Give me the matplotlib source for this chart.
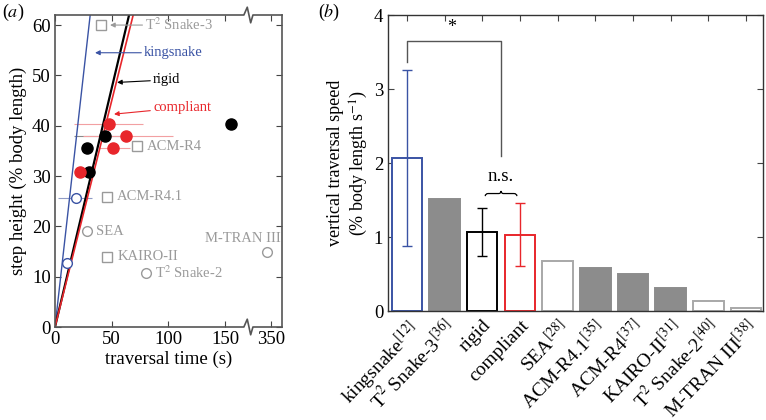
import numpy as np
import matplotlib
matplotlib.use("Agg")
import matplotlib.pyplot as plt
from matplotlib.path import Path
from matplotlib.patches import PathPatch

plt.rcParams['font.family'] = ['Liberation Serif', 'DejaVu Serif']
plt.rcParams['mathtext.fontset'] = 'stix'

BLUE = '#3a53a4'
RED = '#e8262b'
GRAY = '#9a9a9a'
DGRAY = '#8c8c8c'

# ---- panel (a) data: traversal time (s) vs step height (% body length)
king_t = [10.3, 18.5]
king_h = [12.8, 25.6]
king_lo = [10.3, 3.0]
king_hi = [10.3, 32.4]

rigid_t = [28.5, 30.0, 44.4, 155.2]
rigid_h = [35.6, 30.9, 37.9, 40.3]
rigid_lo = [28.5, 30.0, 17.0, 155.2]
rigid_hi = [28.5, 30.0, 60.0, 155.2]

comp_t = [21.8, 47.3, 50.9, 62.3]
comp_h = [30.9, 40.3, 35.6, 37.9]
comp_lo = [19.1, 16.8, 39.0, 25.0]
comp_hi = [35.3, 77.3, 66.0, 103.8]

robot_names = ['T$^{2}$ Snake-3', 'ACM-R4', 'ACM-R4.1', 'SEA', 'KAIRO-II',
               'T$^{2}$ Snake-2', 'M-TRAN III']
robot_t = [40.6, 72.0, 45.6, 28.5, 46.1, 80.2, 347.0]
robot_h = [60.0, 35.9, 25.9, 19.0, 14.0, 10.8, 15.0]
robot_mk = ['s', 's', 's', 'o', 's', 'o', 'o']

# fitted speeds (slopes) for the lines
king_slope = 2.0
rigid_slope = 0.95
comp_slope = 0.90

# ---- panel (b) data
bar_labels = ['kingsnake$^{[12]}$', 'T$^{2}$ Snake-3$^{[36]}$', 'rigid', 'compliant',
              'SEA$^{[28]}$', 'ACM-R4.1$^{[35]}$', 'ACM-R4$^{[37]}$', 'KAIRO-II$^{[31]}$',
              'T$^{2}$ Snake-2$^{[40]}$', 'M-TRAN III$^{[38]}$']
bar_vals = [2.07, 1.51, 1.07, 1.035, 0.68, 0.58, 0.50, 0.31, 0.14, 0.045]
err_lo = [0.877, 1.51, 0.74, 0.606, 0.68, 0.58, 0.50, 0.31, 0.14, 0.045]
err_hi = [3.26, 1.51, 1.40, 1.456, 0.68, 0.58, 0.50, 0.31, 0.14, 0.045]
bar_face = ['white', DGRAY, 'white', 'white', 'white', DGRAY, DGRAY, DGRAY, 'white', 'white']
bar_edge = [BLUE, DGRAY, 'black', RED, '#a8a8a8', DGRAY, DGRAY, DGRAY, '#a8a8a8', '#a8a8a8']


def tx(t):
    # broken x axis: values beyond the break are shifted so 350 sits at 190
    t = np.asarray(t, dtype=float)
    return np.where(t > 300, t - 160, t)


fig = plt.figure(figsize=(7.66, 4.2), dpi=100)
ax = fig.add_axes([55 / 766, 93 / 420, 227 / 766, 312 / 420])

tt = np.array([0, 40])
ax.plot(tt, king_slope * tt, color=BLUE, lw=1.0, zorder=2)
tt = np.array([0, 80])
ax.plot(tt, rigid_slope * tt, color='black', lw=1.6, zorder=2)
ax.plot(tt, comp_slope * tt, color=RED, lw=1.2, zorder=2)

# horizontal error bars
ax.hlines(king_h, tx(king_lo), tx(king_hi), color='#8f9bc6', lw=0.8, zorder=1)
ax.hlines(rigid_h, tx(rigid_lo), tx(rigid_hi), color='#8a8a8a', lw=0.8, zorder=1)
ax.hlines(comp_h, tx(comp_lo), tx(comp_hi), color='#f2a0a2', lw=0.8, zorder=1)

ax.plot(tx(king_t), king_h, 'o', mfc='white', mec=BLUE, ms=7, mew=1.0, zorder=4)
ax.plot(tx(rigid_t), rigid_h, 'o', color='black', ms=8, zorder=4)
ax.plot(tx(comp_t), comp_h, 'o', color=RED, ms=8, zorder=4)

for t, h, m in zip(robot_t, robot_h, robot_mk):
    ax.plot(tx(t), h, m, mfc='white', mec=GRAY, ms=7 if m == 'o' else 6.5, mew=1.0, zorder=3)

fs_a = 10.5
arrow = dict(arrowstyle='-|>', lw=0.8, mutation_scale=7, shrinkA=0, shrinkB=0)
ax.annotate(robot_names[0], xy=(48.5, 60), xytext=(79.5, 60), color=GRAY, fontsize=fs_a,
            va='center', arrowprops=dict(arrow, color=GRAY))
ax.annotate('kingsnake', xy=(35.3, 54.5), xytext=(78.5, 54.5), color=BLUE, fontsize=fs_a,
            va='center', arrowprops=dict(arrow, color=BLUE))
ax.annotate('rigid', xy=(54.7, 48.6), xytext=(86.4, 49.1), color='black', fontsize=fs_a,
            va='center', arrowprops=dict(arrow, color='black'))
ax.annotate('compliant', xy=(52.0, 42.3), xytext=(86.4, 43.6), color=RED, fontsize=fs_a,
            va='center', arrowprops=dict(arrow, color=RED))
ax.text(81.1, 35.9, robot_names[1], color=GRAY, fontsize=fs_a, va='center')
ax.text(54.7, 25.9, robot_names[2], color=GRAY, fontsize=fs_a, va='center')
ax.text(35.8, 19.0, robot_names[3], color=GRAY, fontsize=fs_a, va='center')
ax.text(55.6, 14.0, robot_names[4], color=GRAY, fontsize=fs_a, va='center')
ax.text(88.5, 10.8, robot_names[5], color=GRAY, fontsize=fs_a, va='center')
ax.text(198.5, 17.6, robot_names[6], color=GRAY, fontsize=fs_a, va='center', ha='right')

ax.set_xlim(0, 200)
ax.set_ylim(0, 62)
ax.set_xticks([0, 50, 100, 150, 190])
ax.set_xticklabels(['0', '50', '100', '150', '350'])
ax.set_yticks(range(0, 61, 10))
ax.tick_params(direction='in', top=True, right=True, labelsize=13.5, length=4,
               color='#444444', pad=3)
ax.set_xlabel('traversal time (s)', fontsize=13.5, labelpad=2)
ax.set_ylabel('step height (% body length)', fontsize=13.5, labelpad=4)

# spines with zig-zag break marks
for s in ['top', 'bottom']:
    ax.spines[s].set_visible(False)
for s in ['left', 'right']:
    ax.spines[s].set_color('#555555')
    ax.spines[s].set_linewidth(1.2)
d = 0.025
zx = [0, 0.832, 0.847, 0.862, 0.872, 1]
for y0 in (0, 1):
    zy = [y0, y0, y0 + d, y0 - d, y0, y0]
    ax.plot(zx, zy, color='#555555', lw=1.2, transform=ax.transAxes, clip_on=False, zorder=5)

# ---- panel (b)
bx = fig.add_axes([388 / 766, 109 / 420, 375 / 766, 295.5 / 420])
pos = np.arange(1, len(bar_vals) + 1)
bx.bar(pos, bar_vals, width=0.81, color=bar_face, edgecolor=bar_edge, linewidth=1.4, zorder=2)
err_colors = [BLUE, None, 'black', RED]
for i, c in enumerate(err_colors):
    if c is None:
        continue
    v = bar_vals[i]
    bx.errorbar(pos[i], v, yerr=[[v - err_lo[i]], [err_hi[i] - v]], color=c, lw=1.0,
                capsize=3.5, capthick=1.0, zorder=3)

# significance bracket
bx.plot([1, 1, 3.49, 3.49], [3.37, 3.66, 3.66, 2.10], color='#555555', lw=1.0, zorder=3)
bx.text(2.2, 3.72, '*', fontsize=13, ha='center', va='bottom')
bx.text(3.5, 1.70, 'n.s.', fontsize=13.5, ha='center', va='bottom')

# curly brace over rigid / compliant
x0, x1, xm = 3.08, 3.92, 3.5
y0, y1, y2 = 1.555, 1.59, 1.625
verts = [(x0, y0), (x0, y1), (x0 + 0.08, y1), (xm - 0.06, y1), (xm, y1), (xm, y2),
         (xm, y1), (xm + 0.06, y1), (x1 - 0.08, y1), (x1, y1), (x1, y0)]
codes = [Path.MOVETO, Path.CURVE3, Path.CURVE3, Path.LINETO, Path.CURVE3, Path.CURVE3,
         Path.CURVE3, Path.CURVE3, Path.LINETO, Path.CURVE3, Path.CURVE3]
bx.add_patch(PathPatch(Path(verts, codes), fc='none', ec='black', lw=0.9, zorder=3))

bx.set_xlim(0.5, 10.45)
bx.set_ylim(0, 4)
bx.set_yticks(range(0, 5))
bx.set_xticks(pos)
bx.set_xticklabels(bar_labels, rotation=46, ha='right', rotation_mode='anchor', fontsize=14)
bx.tick_params(direction='in', top=True, right=True, labelsize=13.5, length=4, color='#444444')
bx.tick_params(axis='x', bottom=False, pad=4, labelsize=14)
for s in bx.spines.values():
    s.set_color('#333333')
    s.set_linewidth(1.0)
bx.set_ylabel('vertical traversal speed\n(% body length s$^{-1}$)', fontsize=13,
              labelpad=3, linespacing=1.2)

fig.text(2 / 766, 1 - 12 / 420, '($\\it{a}$)', fontsize=13, va='center')
fig.text(318 / 766, 1 - 12 / 420, '($\\it{b}$)', fontsize=13, va='center')

fig.savefig('out.png', dpi=100)
